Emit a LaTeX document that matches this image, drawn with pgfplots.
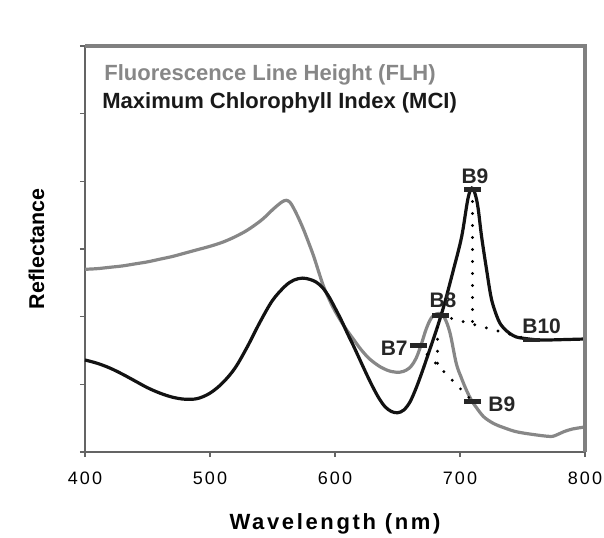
\documentclass[border=0pt]{standalone}
\usepackage{fontspec}
\setmainfont{Liberation Sans}
\usepackage{pgfplots}
\pgfplotsset{compat=1.18}
\definecolor{flh}{RGB}{135,135,135}
\definecolor{axgray}{RGB}{100,100,100}
\definecolor{framec}{RGB}{128,128,128}
\begin{document}
\begin{tikzpicture}
\path[use as bounding box] (-42.5pt,-42.5pt) rectangle (259.5pt,226pt);
\begin{axis}[
  at={(0,0)}, anchor=south west,
  scale only axis, width=250pt, height=203pt,
  xmin=400, xmax=800, ymin=0, ymax=6,
  xtick={400,500,600,700,800}, ytick={0,1,2,3,4,5,6}, yticklabels={},
  tick pos=left, tick align=outside,
  major tick length=2.5pt,
  axis line style={draw=axgray, line width=0.7pt},
  every tick/.style={draw=axgray, line width=0.7pt},
  /pgf/number format/assume math mode=true,
  xticklabel style={font=\fontsize{9}{10}\selectfont\addfontfeature{LetterSpace=12}, anchor=base, yshift=-13.5pt, inner sep=0pt},
  xlabel={Wavelength (nm)},
  xlabel style={at={(axis description cs:0.5,-0.1897)}, anchor=base, inner sep=0pt, font=\fontsize{11}{13}\selectfont\bfseries\addfontfeature{LetterSpace=12}},
  ylabel={Reflectance},
  ylabel style={at={(axis description cs:-0.097,0.5)}, anchor=center, inner sep=0pt, font=\fontsize{10.7}{12}\selectfont\bfseries},
  clip=false,
]
% FLH (gray)
\addplot[flh, line width=1.6pt, smooth, tension=0.55] coordinates {
(400,2.70)(410,2.71)(420,2.73)(430,2.75)(440,2.78)(450,2.81)(460,2.85)(470,2.89)
(480,2.94)(490,2.99)(500,3.04)(510,3.10)(520,3.18)(530,3.28)(540,3.41)(545,3.49)
(550,3.58)(555,3.66)(558,3.70)(561,3.72)(564,3.69)(567,3.60)(571,3.45)(575,3.28)
(579,3.09)(583,2.89)(587,2.66)(591,2.44)(596,2.23)(601,2.05)(608,1.84)(615,1.66)
(621,1.51)(628,1.37)(637,1.25)(645,1.19)(652,1.18)(657,1.21)(661,1.27)(665,1.39)
(669,1.59)(673,1.82)(677,1.98)(681,2.04)(685,2.04)(688,1.97)(692,1.76)(697,1.31)
(701,1.10)(705,0.92)(709,0.77)(713,0.66)(719,0.52)(727,0.42)(735,0.36)(745,0.30)
(758,0.26)(772,0.23)(777,0.25)(783,0.30)(790,0.34)(800,0.37)
};
% MCI (black)
\addplot[black!93, line width=1.6pt, smooth, tension=0.55] coordinates {
(400,1.36)(410,1.31)(420,1.24)(430,1.15)(440,1.05)(450,0.95)(460,0.87)(470,0.81)
(480,0.78)(490,0.79)(500,0.87)(510,1.02)(520,1.24)(530,1.56)(540,1.92)(550,2.24)
(560,2.45)(567,2.54)(574,2.57)(580,2.55)(585,2.51)(590,2.43)(595,2.30)(600,2.13)
(605,1.95)(610,1.75)(615,1.56)(620,1.36)(625,1.16)(630,0.97)(635,0.80)(640,0.67)
(645,0.60)(650,0.58)(655,0.62)(660,0.74)(665,0.95)(670,1.20)(675,1.47)(680,1.74)
(684,1.97)(688,2.22)(694.7,2.69)(701.3,3.18)(706.3,3.74)(709.5,3.90)(712.3,3.80)
(714.5,3.60)(717.3,3.18)(721.3,2.69)(725.3,2.25)(730.7,1.95)(735,1.83)(740,1.75)
(745,1.70)(751,1.68)(764,1.655)(780,1.66)(800,1.67)
};
% dotted construction lines
\addplot[black, line width=1.6pt, dash pattern=on 0pt off 6pt, line cap=round] coordinates {(667,1.57)(710,0.75)};
\addplot[black, line width=1.6pt, dash pattern=on 0pt off 6pt, line cap=round] coordinates {(682,2.02)(682,1.28)};
\addplot[black, line width=1.6pt, dash pattern=on 0pt off 6pt, line cap=round] coordinates {(684,2.02)(757,1.655)};
\addplot[black, line width=1.6pt, dash pattern=on 0pt off 6pt, line cap=round] coordinates {(710,3.88)(710,1.89)};
% band markers
\addplot[only marks, mark=-, mark size=4.25pt, mark options={line width=2.3pt, draw=black!85}] coordinates {
(667,1.57)(684,2.02)(710,3.88)(710,0.75)(757,1.655)};
% frame (top and right)
\draw[framec, line width=2pt] (axis cs:400,6) -- (axis cs:800,6) -- (axis cs:800,0);
% labels
\node[anchor=base, inner sep=0pt, font=\fontsize{10.5}{12}\selectfont\bfseries, text=black!85] at (axis cs:712,3.975) {B9};
\node[anchor=base, inner sep=0pt, font=\fontsize{10.5}{12}\selectfont\bfseries, text=black!85] at (axis cs:686.4,2.13) {B8};
\node[anchor=base east, inner sep=0pt, font=\fontsize{10.5}{12}\selectfont\bfseries, text=black!85] at (axis cs:658.4,1.433) {B7};
\node[anchor=base west, inner sep=0pt, font=\fontsize{10.5}{12}\selectfont\bfseries, text=black!85] at (axis cs:722.4,0.606) {B9};
\node[anchor=base west, inner sep=0pt, font=\fontsize{10.5}{12}\selectfont\bfseries, text=black!85] at (axis cs:749.6,1.758) {B10};
\node[anchor=base west, inner sep=0pt, font=\fontsize{11}{13}\selectfont\bfseries, text=flh] at (axis cs:415.2,5.497) {Fluorescence Line Height (FLH)};
\node[anchor=base west, inner sep=0pt, font=\fontsize{11}{13}\selectfont\bfseries, text=black!90] at (axis cs:413.6,5.07) {Maximum Chlorophyll Index (MCI)};
\end{axis}
\end{tikzpicture}
\end{document}
